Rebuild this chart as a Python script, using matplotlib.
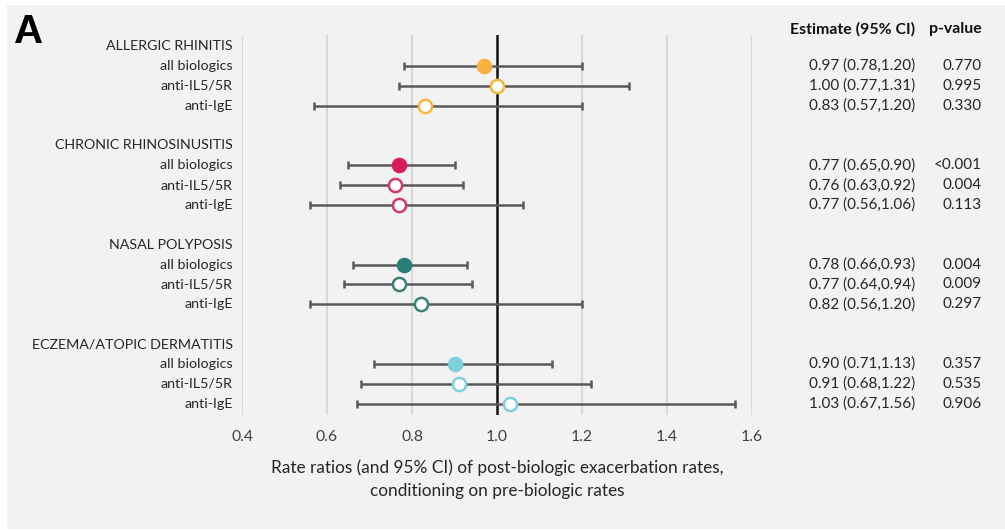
import matplotlib
matplotlib.use("Agg")
import matplotlib.pyplot as plt
from matplotlib.patches import Rectangle
from matplotlib.transforms import blended_transform_factory

plt.rcParams['font.family'] = ['Lato', 'DejaVu Sans']

groups = ["ALLERGIC RHINITIS", "CHRONIC RHINOSINUSITIS", "NASAL POLYPOSIS", "ECZEMA/ATOPIC DERMATITIS"]
subgroups = ["all biologics", "anti-IL5/5R", "anti-IgE"]
estimates = [[0.97, 1.00, 0.83], [0.77, 0.76, 0.77], [0.78, 0.77, 0.82], [0.90, 0.91, 1.03]]
lower = [[0.78, 0.77, 0.57], [0.65, 0.63, 0.56], [0.66, 0.64, 0.56], [0.71, 0.68, 0.67]]
upper = [[1.20, 1.31, 1.20], [0.90, 0.92, 1.06], [0.93, 0.94, 1.20], [1.13, 1.22, 1.56]]
pvalues = [["0.770", "0.995", "0.330"], ["<0.001", "0.004", "0.113"],
           ["0.004", "0.009", "0.297"], ["0.357", "0.535", "0.906"]]
xticks = [0.4, 0.6, 0.8, 1.0, 1.2, 1.4, 1.6]

fill_colors = ["#FBB13C", "#D81B5A", "#267F78", "#7DD0DC"]
edge_colors = ["#F5B73F", "#D2386B", "#3A8079", "#80D0DC"]

W, H = 1005, 530
fig = plt.figure(figsize=(W / 100, H / 100), dpi=100)
fig.patch.set_facecolor("white")
fig.patches.append(Rectangle((7 / W, 1 / H), 1 - 7 / W, (H - 6) / H, transform=fig.transFigure,
                             facecolor="#F2F2F2", edgecolor="none", zorder=-10))

ax_l, ax_r, ax_t, ax_b = 242, 752, 35, 415
ax = fig.add_axes([ax_l / W, 1 - ax_b / H, (ax_r - ax_l) / W, (ax_b - ax_t) / H])
ax.set_facecolor("none")
ax.set_xlim(0.4, 1.6)
ax.set_ylim(18.57, -0.55)
for s in ax.spines.values():
    s.set_visible(False)
ax.set_xticks(xticks)
ax.set_xticklabels([f"{t:.1f}" for t in xticks])
ax.tick_params(axis='x', length=0, pad=11, labelsize=11.3, labelcolor="#404040")
ax.set_yticks([])
for t in xticks:
    if t != 1.0:
        ax.axvline(t, color="#D9D9D9", lw=1.5, zorder=0)
ax.axvline(1.0, color="#111111", lw=1.8, zorder=1)

lab_tr = blended_transform_factory(fig.transFigure, ax.transData)
txt_color = "#262626"
for gi, g in enumerate(groups):
    base = gi * 5
    ax.text(233 / W, base, g, transform=lab_tr, ha="right", va="center",
            fontsize=10.3, color=txt_color)
    for si, sg in enumerate(subgroups):
        y = base + 1 + si
        ax.text(233 / W, y, sg, transform=lab_tr, ha="right", va="center",
                fontsize=10.3, color=txt_color)
        e, lo, hi = estimates[gi][si], lower[gi][si], upper[gi][si]
        ax.errorbar([e], [y], xerr=[[e - lo], [hi - e]], fmt='none', ecolor="#595959",
                    elinewidth=1.8, capsize=3.2, capthick=1.8, zorder=2)
        if si == 0:
            ax.plot([e], [y], 'o', ms=10, mfc=fill_colors[gi], mec=fill_colors[gi],
                    mew=1.2, zorder=3)
        else:
            ax.plot([e], [y], 'o', ms=9.5, mfc="white", mec=edge_colors[gi],
                    mew=1.8, zorder=3)
        ax.text(915 / W, y, f"{e:.2f} ({lo:.2f},{hi:.2f})", transform=lab_tr,
                ha="right", va="center", fontsize=11, color=txt_color)
        ax.text(982 / W, y, pvalues[gi][si], transform=lab_tr,
                ha="right", va="center", fontsize=11, color=txt_color)

fig.text(915 / W, 1 - 29 / H, "Estimate (95% CI)", ha="right", va="center",
         fontsize=11.4, fontweight="bold", color="#111111")
fig.text(982 / W, 1 - 29 / H, "p-value", ha="right", va="center",
         fontsize=11.4, fontweight="bold", color="#111111")

fig.text(497 / W, 1 - 468 / H, "Rate ratios (and 95% CI) of post-biologic exacerbation rates,",
         ha="center", va="center", fontsize=12.4, color=txt_color)
fig.text(497 / W, 1 - 491 / H, "conditioning on pre-biologic rates",
         ha="center", va="center", fontsize=12.4, color=txt_color)

fig.text(14 / W, 1 - 32 / H, "A", ha="left", va="center", fontsize=29,
         fontweight="bold", color="black", family=["Liberation Sans", "DejaVu Sans"])

fig.savefig("out.png", dpi=100)
